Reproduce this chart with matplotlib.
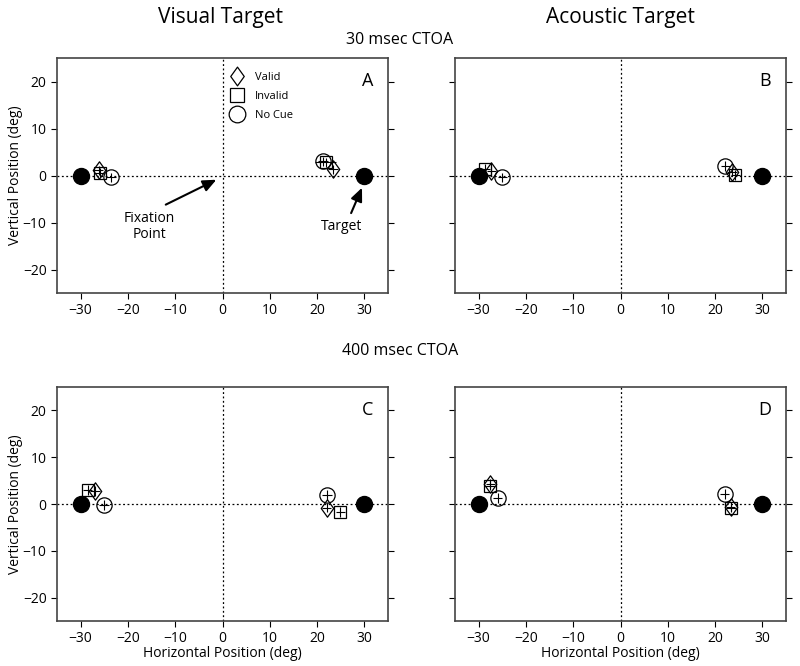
import numpy as np
import matplotlib
matplotlib.use("Agg")
import matplotlib.pyplot as plt
from matplotlib.path import Path
from matplotlib.lines import Line2D

plt.rcParams['font.family'] = ['Open Sans', 'DejaVu Sans']

# endpoint means per panel: [left target, right target]
panels = ['A', 'B', 'C', 'D']
valid_x = {'A': [-26.2, 23.4], 'B': [-27.3, 23.6], 'C': [-27.0, 22.0], 'D': [-27.5, 23.3]}
valid_y = {'A': [1.1, 1.3], 'B': [1.0, 0.8], 'C': [2.8, -0.8], 'D': [4.3, -0.6]}
invalid_x = {'A': [-26.0, 21.8], 'B': [-28.6, 24.3], 'C': [-28.5, 24.9], 'D': [-27.6, 23.4]}
invalid_y = {'A': [0.6, 2.8], 'B': [1.4, 0.1], 'C': [3.0, -1.7], 'D': [3.9, -0.8]}
nocue_x = {'A': [-23.6, 21.3], 'B': [-25.0, 22.2], 'C': [-25.1, 22.1], 'D': [-26.0, 22.0]}
nocue_y = {'A': [-0.4, 3.0], 'B': [-0.4, 2.0], 'C': [-0.2, 1.9], 'D': [1.3, 2.1]}
err = 1.0
invalid_xerr = {'A': [1.0, 2.3], 'B': [1.0, 1.0], 'C': [1.0, 1.0], 'D': [1.0, 1.0]}

target_x = [-30, 30]
target_y = [0, 0]

diamond = Path([(-0.72, 0), (0, 1), (0.72, 0), (0, -1), (-0.72, 0)],
               [Path.MOVETO, Path.LINETO, Path.LINETO, Path.LINETO, Path.CLOSEPOLY])
ms_circle, ms_square, ms_diamond = 11, 8.5, 12.5

fig = plt.figure(figsize=(8, 6.66), dpi=100)
W, H = 800, 666
boxes = {'A': (57, 58, 388, 293), 'B': (455, 58, 786, 293),
         'C': (57, 387, 388, 621), 'D': (455, 387, 786, 621)}
spine_col = '#444444'

for p in panels:
    x0, y0, x1, y1 = boxes[p]
    ax = fig.add_axes([x0 / W, 1 - y1 / H, (x1 - x0) / W, (y1 - y0) / H])
    ax.set_xlim(-35, 35)
    ax.set_ylim(-25, 25)
    ax.axhline(0, color='black', linestyle=(0, (1.5, 2)), linewidth=0.9, zorder=1)
    ax.axvline(0, color='black', linestyle=(0, (1.5, 2)), linewidth=0.9, zorder=1)

    for xs, ys, mk, ms, xe in [(nocue_x[p], nocue_y[p], 'o', ms_circle, [err, err]),
                              (invalid_x[p], invalid_y[p], 's', ms_square, invalid_xerr[p]),
                              (valid_x[p], valid_y[p], diamond, ms_diamond, [err, err])]:
        ax.errorbar(xs, ys, xerr=xe, yerr=err, fmt='none', ecolor='black',
                    elinewidth=0.8, capsize=0, zorder=3)
        ax.plot(xs, ys, linestyle='none', marker=mk, markersize=ms,
                markerfacecolor='none', markeredgecolor='black',
                markeredgewidth=0.9, zorder=4)

    ax.plot(target_x, target_y, linestyle='none', marker='o', markersize=11.5,
            color='black', zorder=5)

    ax.set_xticks([-30, -20, -10, 0, 10, 20, 30])
    ax.set_yticks([-20, -10, 0, 10, 20])
    ax.tick_params(direction='out', length=4, labelsize=10, colors='black',
                   right=True, top=False, width=0.8)
    for s in ax.spines.values():
        s.set_color(spine_col)
        s.set_linewidth(1.2)
    if p in ('B', 'D'):
        ax.set_yticklabels([])
    else:
        ax.set_ylabel('Vertical Position (deg)', fontsize=10, labelpad=0)
    if p in ('C', 'D'):
        ax.set_xlabel('Horizontal Position (deg)', fontsize=10, labelpad=0)
    ax.text(0.955, 0.94, p, transform=ax.transAxes, fontsize=13,
            ha='right', va='top')

    if p == 'A':
        handles = [Line2D([], [], linestyle='none', marker=diamond, markersize=13.5,
                          markerfacecolor='none', markeredgecolor='black', markeredgewidth=0.9),
                   Line2D([], [], linestyle='none', marker='s', markersize=9.5,
                          markerfacecolor='none', markeredgecolor='black', markeredgewidth=0.9),
                   Line2D([], [], linestyle='none', marker='o', markersize=12,
                          markerfacecolor='none', markeredgecolor='black', markeredgewidth=0.9)]
        ax.legend(handles, ['Valid', 'Invalid', 'No Cue'], loc='upper left',
                  bbox_to_anchor=(0.505, 0.968), frameon=False, fontsize=8,
                  handletextpad=1.0, labelspacing=0.7, handlelength=1.2,
                  borderaxespad=0.2)
        arrow = dict(arrowstyle='-|>,head_length=0.8,head_width=0.35',
                     color='black', lw=1.5, shrinkA=0, shrinkB=0)
        ax.annotate('', xy=(-1.3, -0.9), xytext=(-12.0, -6.2), arrowprops=arrow)
        ax.text(-15.5, -10.9, 'Fixation\nPoint', ha='center', va='center',
                fontsize=10, linespacing=1.1)
        ax.annotate('', xy=(29.5, -2.6), xytext=(27.2, -8.0), arrowprops=arrow)
        ax.text(25.2, -10.9, 'Target', ha='center', va='center', fontsize=10)

fig.text(220 / W, 1 - 18 / H, 'Visual Target', ha='center', va='center', fontsize=15)
fig.text(620 / W, 1 - 18 / H, 'Acoustic Target', ha='center', va='center', fontsize=15)
fig.text(400 / W, 1 - 40 / H, '30 msec CTOA', ha='center', va='center', fontsize=11.5)
fig.text(400 / W, 1 - 351 / H, '400 msec CTOA', ha='center', va='center', fontsize=11.5)

fig.savefig('out.png', dpi=100)
